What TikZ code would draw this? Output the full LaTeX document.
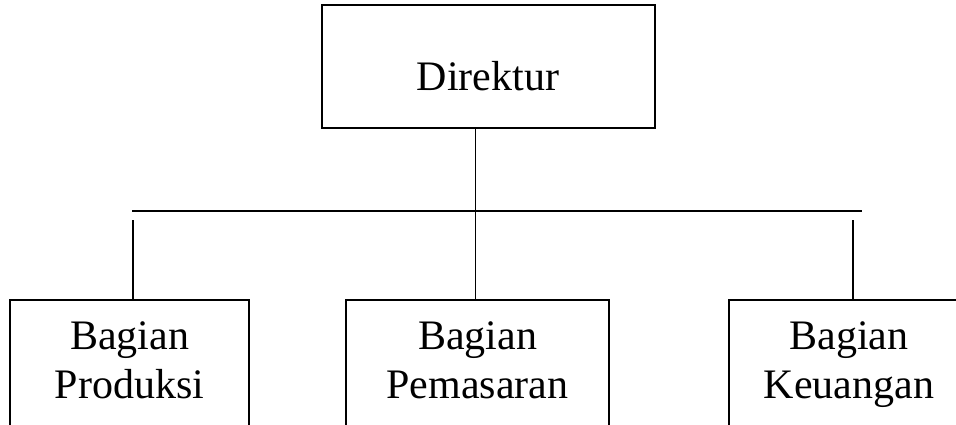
\documentclass[tikz,border=0pt]{standalone}
\usepackage{fontspec}
\setmainfont{Liberation Serif}
\begin{document}
\begin{tikzpicture}[x=1pt,y=1pt,
  box/.style={draw=black,line width=2pt,rectangle,inner sep=0pt},
  lbl/.style={inner sep=0pt,anchor=base,font=\fontsize{42}{49}\selectfont},
  conn/.style={draw=black,line width=1.6pt},
  bar/.style={draw=black,line width=2.4pt}]
\useasboundingbox (0,0) rectangle (956,-425);
\clip (0,0) rectangle (956,-425);
% top box
\node[box,minimum width=333pt,minimum height=123pt] (dir) at (488.5,-66.5) {};
\node[lbl] (dirt) at (488,-91) {Direktur};
% bottom boxes (open below the picture)
\node[box,minimum width=239pt,minimum height=170pt] (prod) at (129.5,-385) {};
\node[box,minimum width=263pt,minimum height=170pt] (pem) at (477.5,-385) {};
\node[box,minimum width=240pt,minimum height=170pt] (keu) at (849,-385) {};
\node[lbl] (prod1) at (129.5,-349) {Bagian};
\node[lbl] (prod2) at (129.5,-398) {Produksi};
\node[lbl] (pem1) at (477.5,-349) {Bagian};
\node[lbl] (pem2) at (477.5,-398) {Pemasaran};
\node[lbl] (keu1) at (849,-349) {Bagian};
\node[lbl] (keu2) at (849,-398) {Keuangan};
% connectors
\coordinate (hl) at (132,-211);
\coordinate (hr) at (862,-211);
\coordinate (lt) at (133,-220);
\coordinate (lb) at (133,-300);
\coordinate (rt) at (853,-220);
\coordinate (rb) at (853,-300);
\coordinate (mt) at (475.5,-128);
\coordinate (mb) at (475.5,-300);
\draw[bar] (hl) -- (hr);
\draw[conn] (mt) -- (mb);
\draw[conn] (lt) -- (lb);
\draw[conn] (rt) -- (rb);
\end{tikzpicture}
\end{document}
